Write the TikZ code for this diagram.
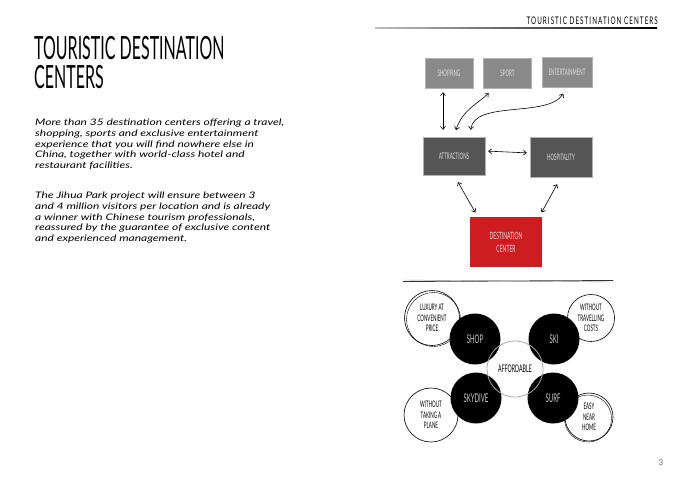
\documentclass[tikz,border=0pt]{standalone}
\usepackage{fontspec}
\setmainfont{Lato}
\newfontfamily\sketchfont[FakeStretch=0.5]{Lato}
\newfontfamily\sketchwide[FakeStretch=0.6,LetterSpace=10]{Lato}
\newfontfamily\bodyhand[FakeStretch=1.33]{Lato}
\usetikzlibrary{arrows.meta}
\definecolor{boxgray}{HTML}{8A8A8A}
\definecolor{boxdark}{HTML}{555555}
\definecolor{boxred}{HTML}{CD1D20}
\definecolor{ringgray}{HTML}{A8A8A8}
\tikzset{
  topbox/.style={
    rectangle,
    fill=boxgray,
    draw=black!30,
    thin,
    text=white!88!black,
    minimum width=48pt,
    minimum height=30pt,
    inner sep=0pt,
    font=\sketchfont\fontsize{9}{10}\selectfont,
  },
  lowbox/.style={
    topbox,
    fill=boxdark,
    minimum width=62pt,
    minimum height=38pt,
  },
  redbox/.style={
    topbox,
    fill=boxred,
    draw=none,
    align=center,
    minimum width=72pt,
    minimum height=50pt,
    font=\sketchfont\fontsize{10}{13}\selectfont,
  },
  bubble/.style={
    circle,
    fill=black,
    minimum size=51pt,
    inner sep=0pt,
    text=white!80!black,
    font=\sketchfont\fontsize{12}{13}\selectfont,
  },
  note/.style={
    circle,
    draw=black,
    semithick,
    fill=white,
    inner sep=0pt,
    align=center,
    font=\sketchfont\fontsize{9}{10.5}\selectfont,
  },
  link/.style={
    arrows={Straight Barb[length=3pt,width=5pt]-Straight Barb[length=3pt,width=5pt]},
    semithick,
  }
}

\begin{document}
\begin{tikzpicture}[x=1pt, y=-1pt]
    \useasboundingbox[fill=white] (0, 0) rectangle (680, 482);

    % running head
    \shade[left color=black!25, right color=black] (375, 27.5) rectangle (657, 28.7);
    \node[anchor=east, inner sep=0pt, font=\sketchwide\fontsize{10.5}{11}\selectfont] (head) at (658, 21) {TOURISTIC DESTINATION CENTERS};

    % title and text
    \node[anchor=north west, inner sep=0pt, align=left, font=\sketchfont\fontsize{32}{29}\selectfont] (title) at (34, 36) {TOURISTIC DESTINATION\\CENTERS};

    \node[anchor=north west, inner sep=0pt, align=left, font=\bodyhand\itshape\fontsize{9}{10.6}\selectfont] (intro) at (35, 119) {More than 35 destination centers offering a travel,\\shopping, sports and exclusive entertainment\\experience that you will find nowhere else in\\China, together with world-class hotel and\\restaurant facilities.};
    \node[anchor=north west, inner sep=0pt, align=left, font=\bodyhand\itshape\fontsize{9}{10.6}\selectfont] (project) at (35, 192) {The Jihua Park project will ensure between 3\\and 4 million visitors per location and is already\\a winner with Chinese tourism professionals,\\reassured by the guarantee of exclusive content\\and experienced management.};

    % boxes
    \node[topbox] (shopping) at (449, 73) {SHOPPING};
    \node[topbox] (sport) at (507.5, 73) {SPORT};
    \node[topbox, minimum width=50pt] (entertainment) at (567, 72.5) {ENTERTAINMENT};
    \node[lowbox] (attractions) at (454, 156) {ATTRACTIONS};
    \node[lowbox, minimum height=40pt] (hospitality) at (561, 157) {HOSPITALITY};
    \node[redbox] (destination) at (506, 242) {DESTINATION\\CENTER};

    % arrows
    \draw[link, shorten <=7pt, shorten >=4pt] ([xshift=-11pt]attractions.north) -- ([xshift=-6pt]shopping.south);
    \draw[link, shorten <=7pt, shorten >=7pt] (attractions.north) .. controls (462, 110) and (480, 102) .. ([xshift=-14pt]sport.south);
    \draw[link, shorten <=7pt, shorten >=7pt] ([xshift=16pt]attractions.north) .. controls (474, 100) and (548, 118) .. (entertainment.south);
    \draw[link, shorten <=3pt, shorten >=3pt] ([yshift=5pt]attractions.east) -- ([yshift=4pt]hospitality.west);
    \draw[link, shorten <=8pt, shorten >=5pt] (attractions.south) -- ([xshift=8pt]destination.north west);
    \draw[link, shorten <=8pt, shorten >=5pt] (hospitality.south) -- ([xshift=-3pt]destination.north east);

    % separator
    \draw[black!80, thick] (403, 281.5) -- (613, 280.5);
    \draw[black!45, thin] (405, 280) -- (610, 282);

    % circles
    \node[note, minimum size=55pt] (luxury) at (432, 318) {LUXURY AT\\CONVENIENT\\PRICE};
    \node[note, minimum size=47pt] (travel) at (591, 318) {WITHOUT\\TRAVELLING\\COSTS};
    \node[note, minimum size=54pt] (plane) at (431, 415) {WITHOUT\\TAKING A\\PLANE};
    \node[note, minimum size=48pt] (home) at (589, 417) {EASY\\NEAR\\HOME};
    \draw[thin] ([shift={(1.5, 1.5)}]luxury.center) circle[radius=27];
    \draw[thin] ([shift={(-1, 1.5)}]home.center) circle[radius=23.5];

    \node[circle, fill=white, minimum size=56pt] (affordable) at (515, 369) {};
    \node[bubble] (shop) at (475, 339) {SHOP};
    \node[bubble] (ski) at (554, 339) {SKI};
    \node[bubble] (skydive) at (476, 398) {SKYDIVE};
    \node[bubble] (surf) at (553, 398) {SURF};
    \draw[ringgray, thick] (affordable.center) circle[radius=28];
    \node[font=\sketchfont\fontsize{10.5}{12}\selectfont] at (affordable.center) {AFFORDABLE};

    % page number
    \node[text=black!60, font=\fontsize{8}{9}\selectfont] (page) at (661, 463) {3};
\end{tikzpicture}
\end{document}
